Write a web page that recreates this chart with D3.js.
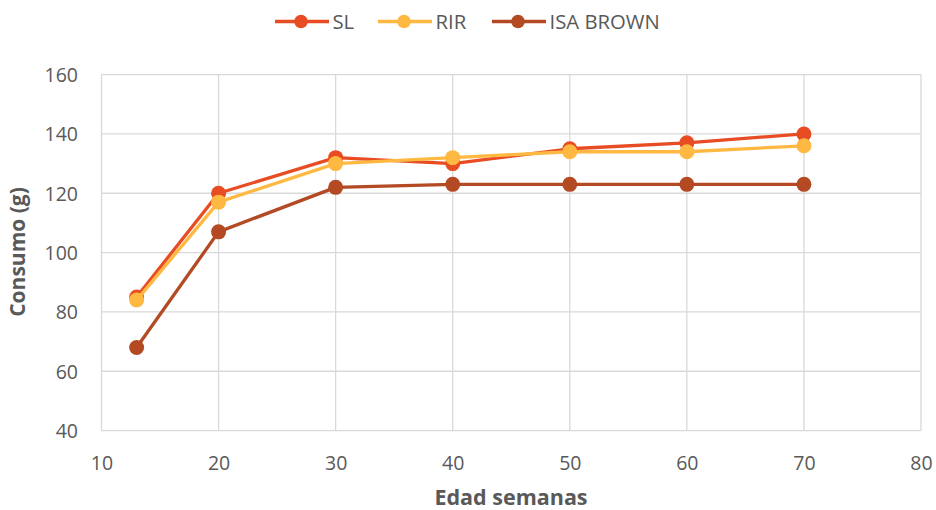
<!DOCTYPE html>
<html><head><meta charset="utf-8">
<script src="https://cdn.jsdelivr.net/npm/d3@7"></script>
<style>
body{margin:0;background:#fff;}
text{font-family:"Open Sans","Noto Sans",sans-serif;}
</style></head>
<body><svg id="c" width="936" height="510"></svg>
<script>
const ages = [13, 20, 30, 40, 50, 60, 70];
const slValues = [85, 120, 132, 130, 135, 137, 140];
const rirValues = [84, 117, 130, 132, 134, 134, 136];
const isaValues = [68, 107, 122, 123, 123, 123, 123];
const seriesNames = ["SL", "RIR", "ISA BROWN"];
const seriesColors = ["#E84C22", "#FFB942", "#B34A24"];
const xTicks = [10, 20, 30, 40, 50, 60, 70, 80];
const yTicks = [40, 60, 80, 100, 120, 140, 160];

const series = [slValues, rirValues, isaValues].map((v, i) => ({
  name: seriesNames[i], color: seriesColors[i],
  pts: ages.map((a, j) => ({x: a, y: v[j]}))
}));

const svg = d3.select("#c");
const L = 101.5, R = 921, T = 74.6, B = 430.6;
const x = d3.scaleLinear().domain([10, 80]).range([L, R]);
const y = d3.scaleLinear().domain([40, 160]).range([B, T]);

const grid = svg.append("g");
grid.selectAll(".gy").data(yTicks).join("line")
  .attr("x1", L).attr("x2", R).attr("y1", d => y(d)).attr("y2", d => y(d))
  .attr("stroke", "#D9D9D9").attr("stroke-width", 1.3);
grid.selectAll(".gx").data(xTicks).join("line")
  .attr("y1", T).attr("y2", B).attr("x1", d => x(d)).attr("x2", d => x(d))
  .attr("stroke", "#D9D9D9").attr("stroke-width", 1.3);

const xAxis = svg.append("g").attr("transform", `translate(0,${B})`)
  .call(d3.axisBottom(x).tickValues(xTicks).tickSize(0).tickFormat(d3.format("d")));
xAxis.select(".domain").remove();
xAxis.selectAll("text").attr("fill", "#595959").style("font-size", "19.5px")
  .attr("y", 39.5).attr("dy", 0);

const yAxis = svg.append("g").attr("transform", `translate(${L},0)`)
  .call(d3.axisLeft(y).tickValues(yTicks).tickSize(0).tickFormat(d3.format("d")));
yAxis.select(".domain").remove();
yAxis.selectAll("text").attr("fill", "#595959").style("font-size", "19.5px")
  .attr("x", -23.5).attr("dy", "0.35em");

const line = d3.line().x(d => x(d.x)).y(d => y(d.y));
series.forEach(s => {
  const g = svg.append("g");
  g.append("path").datum(s.pts).attr("d", line)
    .attr("fill", "none").attr("stroke", s.color).attr("stroke-width", 3.3)
    .attr("stroke-linejoin", "round");
  g.selectAll("circle").data(s.pts).join("circle")
    .attr("cx", d => x(d.x)).attr("cy", d => y(d.y)).attr("r", 7.5)
    .attr("fill", s.color);
});

// Legend
const legX = [275, 378, 492];
const leg = svg.append("g");
series.forEach((s, i) => {
  const g = leg.append("g").attr("transform", `translate(${legX[i]},21.5)`);
  g.append("line").attr("x1", 0).attr("x2", 54).attr("stroke", s.color).attr("stroke-width", 3.3);
  g.append("circle").attr("cx", 26).attr("r", 6.8).attr("fill", s.color);
  g.append("text").attr("x", 57.5).attr("y", 0).attr("dy", "0.36em")
    .attr("fill", "#595959").style("font-size", "20.3px").text(s.name);
});

svg.append("text").attr("x", 511).attr("y", 505)
  .attr("text-anchor", "middle").attr("fill", "#595959")
  .style("font-size", "21.5px").style("font-weight", "bold").text("Edad semanas");
svg.append("text").attr("transform", `translate(25,252) rotate(-90)`)
  .attr("text-anchor", "middle").attr("fill", "#595959")
  .style("font-size", "21px").style("font-weight", "bold").text("Consumo (g)");
</script></body></html>
